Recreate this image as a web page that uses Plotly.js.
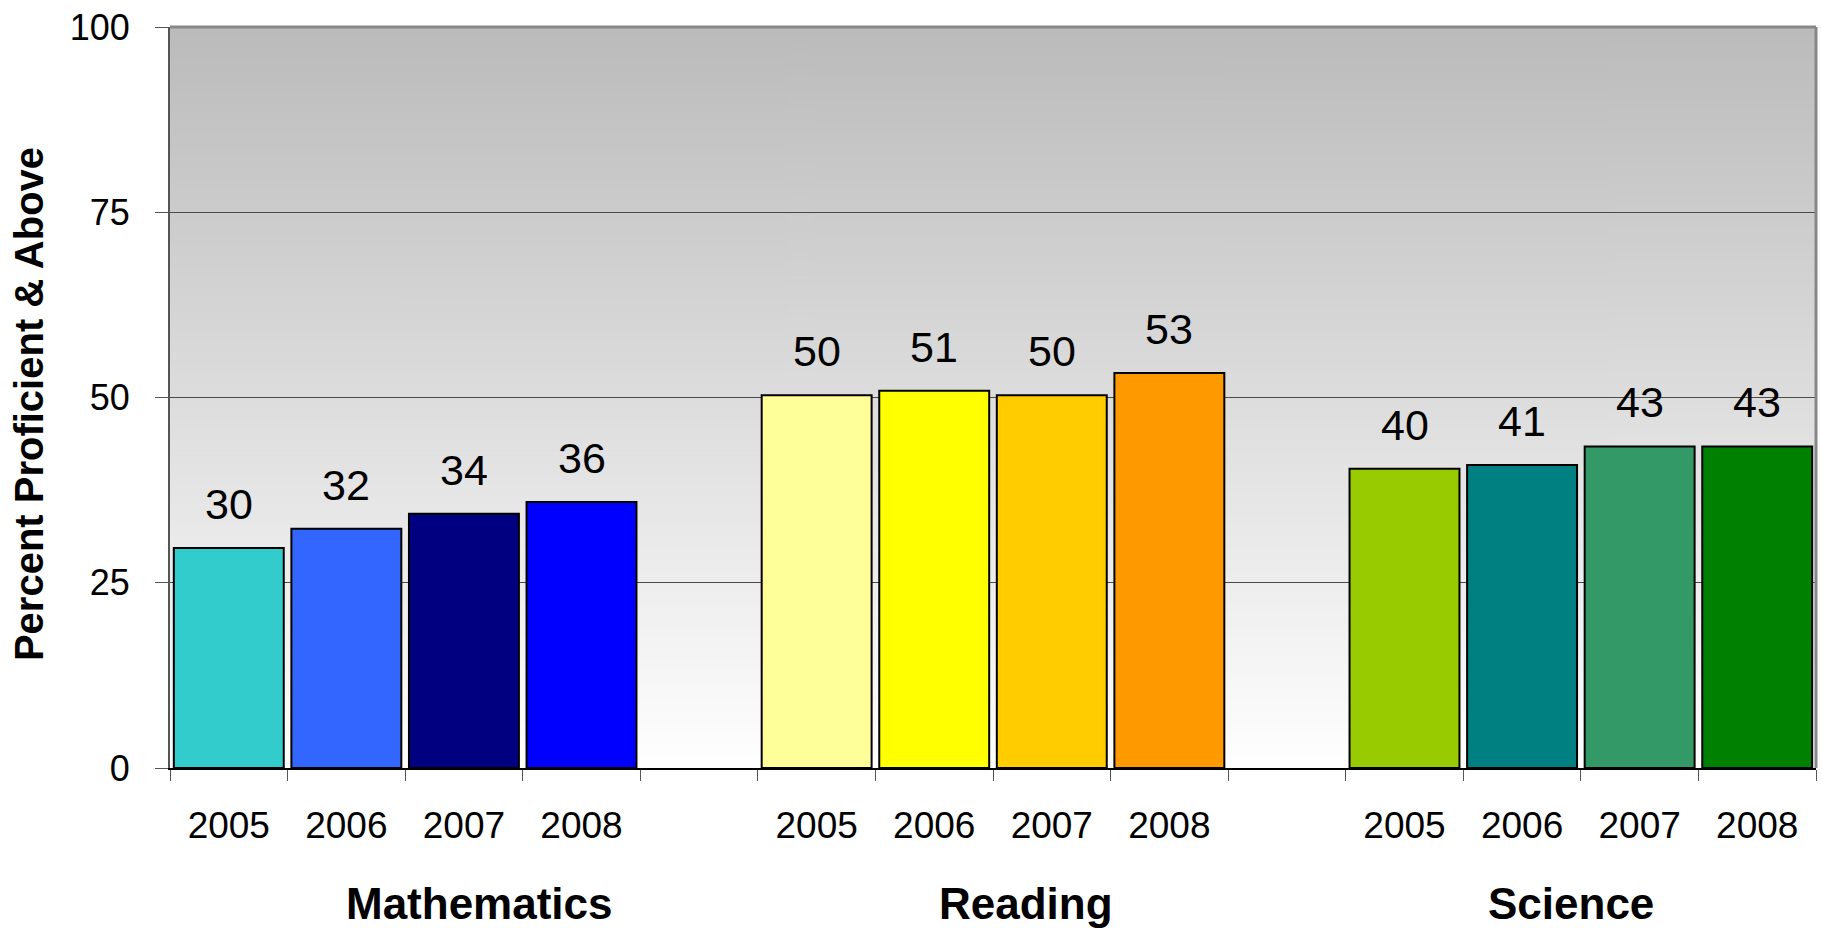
<!DOCTYPE html>
<html><head><meta charset="utf-8">
<script src="https://cdn.plot.ly/plotly-3.0.1.min.js"></script>
<style>html,body{margin:0;padding:0;background:#fff}#chart{width:1822px;height:928px}</style>
</head><body><div id="chart"></div>
<script>
// ---- data ----
const subjects = ['Mathematics', 'Reading', 'Science'];
const years = ['2005', '2006', '2007', '2008'];
const mathematics = [29.7, 32.3, 34.3, 35.9];
const reading = [50.3, 50.9, 50.3, 53.3];
const science = [40.4, 40.9, 43.4, 43.4];
const yTicks = [0, 25, 50, 75, 100];
const yTitle = 'Percent Proficient & Above';

// ---- styles ----
const mathColors = ['#33CCCC', '#3366FF', '#000080', '#0000FF'];
const readingColors = ['#FFFF99', '#FFFF00', '#FFCC00', '#FF9900'];
const scienceColors = ['#99CC00', '#008080', '#339966', '#008000'];
const FONT = 'Liberation Sans, Arial, sans-serif';

const series = [mathematics, reading, science];
const palette = [mathColors, readingColors, scienceColors];
const slot = years.length + 1; // one empty category between subject groups
const xs = [], ys = [], cols = [], tickText = [];
series.forEach((vals, g) => vals.forEach((v, i) => {
  xs.push(g * slot + i); ys.push(v); cols.push(palette[g][i]); tickText.push(years[i]);
}));
const nCat = subjects.length * slot - 1;

// gradient background image
const cv = document.createElement('canvas');
cv.width = 4; cv.height = 400;
const ctx = cv.getContext('2d');
const grd = ctx.createLinearGradient(0, 0, 0, 400);
grd.addColorStop(0, '#BBBBBB');
grd.addColorStop(1, '#FFFFFF');
ctx.fillStyle = grd; ctx.fillRect(0, 0, 4, 400);
const bgURL = cv.toDataURL('image/png');

const trace = {
  type: 'bar', x: xs, y: ys,
  marker: {color: cols, line: {color: '#000000', width: 2}},
  hoverinfo: 'x+y', showlegend: false
};

const annotations = xs.map((x, k) => ({
  x: x, y: ys[k], xref: 'x', yref: 'y', text: String(Math.round(ys[k])),
  showarrow: false, yanchor: 'middle', yshift: 44,
  font: {family: FONT, size: 43, color: '#000'}
}));
const groupX = [0.188, 0.520, 0.851];
subjects.forEach((s, g) => annotations.push({
  xref: 'paper', yref: 'paper', x: groupX[g], y: -0.183, text: s,
  showarrow: false, xanchor: 'center', yanchor: 'middle',
  font: {family: FONT, size: 44, color: '#000', weight: 'bold'}
}));
annotations.push({
  xref: 'paper', yref: 'paper', x: -0.0857, y: 0.491, text: yTitle, textangle: -90,
  showarrow: false, xanchor: 'center', yanchor: 'middle',
  font: {family: FONT, size: 40, color: '#000', weight: 'bold'}
});

const layout = {
  width: 1822, height: 928,
  margin: {l: 170, r: 6, t: 27, b: 160, pad: 0},
  paper_bgcolor: '#FFFFFF', plot_bgcolor: 'rgba(0,0,0,0)',
  bargap: 0.065,
  font: {family: FONT, color: '#000'},
  xaxis: {
    range: [-0.5, nCat - 0.5], fixedrange: true,
    tickmode: 'array', tickvals: xs, ticktext: tickText,
    ticks: '', ticklabelstandoff: 24,
    tickfont: {family: FONT, size: 37, color: '#000'},
    minor: {tickmode: 'linear', tick0: -0.5, dtick: 1, ticks: 'outside', ticklen: 11, tickcolor: '#555', tickwidth: 1, showgrid: false},
    showline: true, linecolor: '#000', linewidth: 2, showgrid: false, zeroline: false
  },
  yaxis: {
    range: [0, 100], fixedrange: true,
    tickmode: 'array', tickvals: yTicks,
    ticks: 'outside', ticklen: 13, tickcolor: '#555', tickwidth: 1, ticklabelstandoff: 18,
    tickfont: {family: FONT, size: 36, color: '#000'},
    showline: true, linecolor: '#555', linewidth: 2,
    showgrid: true, gridcolor: '#4a4a4a', gridwidth: 1, zeroline: false
  },
  images: [{source: bgURL, xref: 'paper', yref: 'paper', x: 0, y: 1, sizex: 1, sizey: 1,
    xanchor: 'left', yanchor: 'top', sizing: 'stretch', layer: 'below'}],
  shapes: [
    {type: 'line', xref: 'paper', yref: 'paper', x0: 0, x1: 1, y0: 1, y1: 1, line: {color: '#878787', width: 3}},
    {type: 'line', xref: 'paper', yref: 'paper', x0: 1, x1: 1, y0: 0, y1: 1, line: {color: '#878787', width: 3}}
  ],
  annotations: annotations
};

Plotly.newPlot('chart', [trace], layout, {displayModeBar: false, staticPlot: true});
</script>
</body></html>
